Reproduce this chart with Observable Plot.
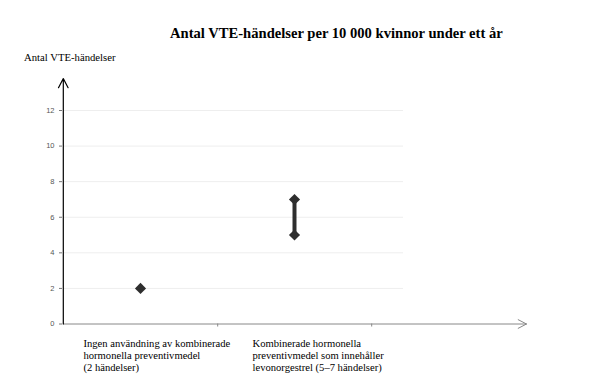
<!DOCTYPE html>
<html><head><meta charset="utf-8">
<script src="https://cdn.jsdelivr.net/npm/d3@7"></script>
<script src="https://cdn.jsdelivr.net/npm/@observablehq/plot@0.6"></script>
<style>
body{margin:0;background:#fff;}
#wrap{position:relative;width:609px;height:391px;overflow:hidden;}
#title{position:absolute;left:170px;top:26px;font:bold 14.6px "Liberation Serif",serif;white-space:nowrap;line-height:15px;color:#000;}
#ylab{position:absolute;left:24px;top:52px;font:10.7px "Liberation Serif",serif;white-space:nowrap;line-height:11px;color:#000;}
svg{position:absolute;left:0;top:0;}
</style></head>
<body><div id="wrap">
<div id="title">Antal VTE-händelser per 10 000 kvinnor under ett år</div>
<div id="ylab">Antal VTE-händelser</div>
</div>
<script>
const categories = ["Ingen användning av kombinerade hormonella preventivmedel (2 händelser)",
  "Kombinerade hormonella preventivmedel som innehåller levonorgestrel (5–7 händelser)", ""];
const labels = [["Ingen användning av kombinerade","hormonella preventivmedel","(2 händelser)"],
  ["Kombinerade hormonella","preventivmedel som innehåller","levonorgestrel (5–7 händelser)"]];
const lowValues = [2, 5];
const highValues = [2, 7];
const yTicks = [0, 2, 4, 6, 8, 10, 12];
const yAxisEnd = 13.8;

const data = lowValues.map((lo, i) => ({cat: categories[i], lo, hi: highValues[i]}));
const points = data.flatMap(d => d.lo === d.hi ? [{cat: d.cat, v: d.lo}] : [{cat: d.cat, v: d.lo}, {cat: d.cat, v: d.hi}]);
const ranges = data.filter(d => d.lo !== d.hi);

const chart = Plot.plot({
  width: 609, height: 391,
  marginLeft: 62, marginRight: 84, marginTop: 110, marginBottom: 67.5,
  x: {type: "band", domain: categories, padding: 0, axis: null},
  y: {domain: [0, 12], axis: null},
  style: {background: "transparent", overflow: "visible"},
  marks: [
    Plot.ruleY(yTicks.slice(1), {x1: () => categories[0], x2: () => categories[1], insetRight: -32, stroke: "#eeeeee", strokeWidth: 1}),
    Plot.axisY({ticks: yTicks, tickSize: 3, tickPadding: 5, fontSize: 7.5, fontFamily: "Liberation Sans, sans-serif", fill: "#555", stroke: "#777", label: null}),
    Plot.arrow([0], {x1: () => categories[0], x2: () => categories[2], y1: 0, y2: 0, insetStart: -77.2, insetEnd: -78, stroke: "#888", strokeWidth: 1, headLength: 14, headAngle: 55}),
    Plot.ruleX(categories.slice(0, 2), {x: d => d, y1: 0, y2: -0.17, dx: 77.2, stroke: "#888"}),
    Plot.arrow([0], {x1: () => categories[0], x2: () => categories[0], y1: 0, y2: yAxisEnd, dx: -77.2, stroke: "#000", strokeWidth: 1.2, headLength: 13, headAngle: 55}),
    Plot.ruleX(ranges, {x: "cat", y1: "lo", y2: "hi", stroke: "#2e2e2e", strokeWidth: 4}),
    Plot.dot(points, {x: "cat", y: "v", symbol: "diamond2", r: 5, fill: "#2e2e2e", stroke: "none"}),
    Plot.text(labels.slice(0,1), {x: () => categories[0], y: 0, text: d => d.join("\n"), textAnchor: "start", lineAnchor: "top", dx: -57, dy: 14, fontSize: 10.6, lineHeight: 1.14, fontFamily: "Liberation Serif, serif", fill: "#000"}),
    Plot.text(labels.slice(1,2), {x: () => categories[1], y: 0, text: d => d.join("\n"), textAnchor: "start", lineAnchor: "top", dx: -42, dy: 14, fontSize: 10.6, lineHeight: 1.14, fontFamily: "Liberation Serif, serif", fill: "#000"})
  ]
});
document.getElementById("wrap").prepend(chart);
</script>
</body></html>
